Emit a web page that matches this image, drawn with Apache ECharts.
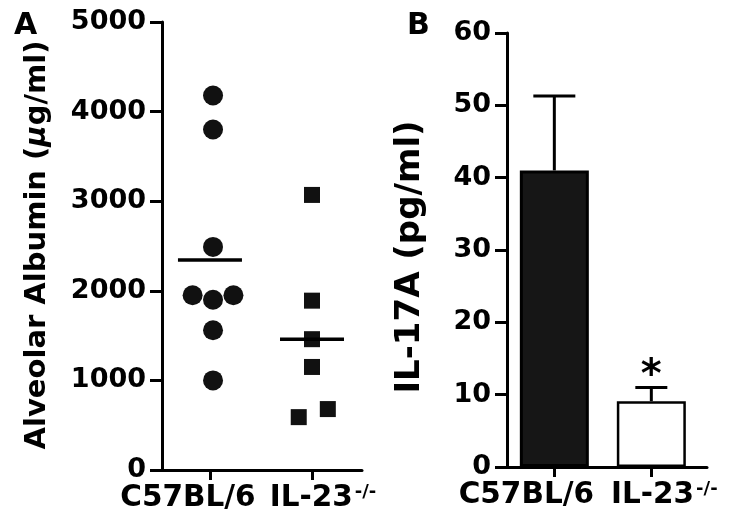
<!DOCTYPE html>
<html>
<head>
<meta charset="utf-8">
<script src="https://cdn.jsdelivr.net/npm/echarts@6/dist/echarts.min.js"></script>
<style>
html,body{margin:0;padding:0;background:#fff;}
#chart{width:729px;height:520px;}
</style>
</head>
<body>
<div id="chart"></div>
<script>
// panel A - alveolar albumin, one dot per mouse
const groups = ['C57BL/6', 'IL-23'];
const wtAlbumin = [4180, 3800, 2490, 1950, 1950, 1900, 1560, 1000];
const wtJitter = [1.03, 1.03, 1.03, 0.83, 1.23, 1.03, 1.03, 1.03];
const koAlbumin = [3070, 1890, 1460, 1150, 680, 590];
const koJitter = [2.0, 2.0, 2.0, 2.0, 2.155, 1.87];
const albuminMeans = [2345, 1460];
const albuminTicks = [0, 1000, 2000, 3000, 4000, 5000];

// panel B - IL-17A, mean + SEM
const il17Means = [41, 9.1];
const il17Sem = [10.3, 1.9];
const il17Stars = ['', '*'];
const il17Ticks = [0, 10, 20, 30, 40, 50, 60];

const FONT = 'DejaVu Sans';
const black = '#000';
const capWidths = [42, 32];

const chart = echarts.init(document.getElementById('chart'));

const labelRich = (shiftA, shiftB) => ({
  a: {fontFamily: FONT, fontWeight: 'bold', fontSize: 29.5, color: black, padding: [0, shiftA * 2, 0, 0]},
  b: {fontFamily: FONT, fontWeight: 'bold', fontSize: 29.5, color: black, padding: [0, 0, 0, shiftB * 2]},
  s: {fontFamily: FONT, fontWeight: 'bold', fontSize: 18, color: black, verticalAlign: 'top', padding: [0, 0, 12, 2]}
});
const groupLabel = v => v === 1 ? '{a|' + groups[0] + '}' : '{b|' + groups[1] + '}{s|-/-}';

const xCommon = {
  type: 'value',
  splitLine: {show: false},
  axisLine: {lineStyle: {color: black, width: 3}},
  axisTick: {customValues: [1, 2], length: 10, lineStyle: {color: black, width: 3}},
};
const yCommon = {
  type: 'value',
  min: 0,
  splitLine: {show: false},
  axisLine: {show: true, lineStyle: {color: black, width: 3}},
  axisTick: {show: true, length: 12, lineStyle: {color: black, width: 3}},
  axisLabel: {fontFamily: FONT, fontWeight: 'bold', fontSize: 27, color: black, margin: 16, formatter: v => String(v)},
  nameLocation: 'middle',
  nameTextStyle: {fontFamily: FONT, fontWeight: 'bold', fontSize: 29, color: black}
};

const option = {
  animation: false,
  backgroundColor: '#fff',
  title: [
    {text: 'A', left: 9, top: 6, textStyle: {fontFamily: FONT, fontWeight: 'bold', fontSize: 30, color: black}},
    {text: 'B', left: 402, top: 6, textStyle: {fontFamily: FONT, fontWeight: 'bold', fontSize: 30, color: black}}
  ],
  grid: [
    {left: 162, top: 22, width: 200, height: 448},
    {left: 507, top: 33, width: 200, height: 434}
  ],
  xAxis: [
    Object.assign({}, xCommon, {
      gridIndex: 0, min: 0.53, max: 2.49,
      axisLabel: {customValues: [1, 2], margin: 13, formatter: groupLabel, rich: labelRich(22, 11)}
    }),
    Object.assign({}, xCommon, {
      gridIndex: 1, min: 0.512, max: 2.574,
      axisLabel: {customValues: [1, 2], margin: 13, formatter: groupLabel, rich: labelRich(28, 13)}
    })
  ],
  yAxis: [
    Object.assign({}, yCommon, {
      gridIndex: 0, max: albuminTicks[albuminTicks.length - 1], interval: 1000,
      name: '{t|Alveolar Albumin (}{i|μ}{t|g/ml)}',
      nameGap: 110,
      nameTextStyle: Object.assign({}, yCommon.nameTextStyle, {
        padding: [0, 0, 0, 2],
        rich: {
          t: {fontFamily: FONT, fontWeight: 'bold', fontSize: 29, color: black},
          i: {fontFamily: FONT, fontWeight: 'bold', fontStyle: 'italic', fontSize: 29, color: black}
        }
      })
    }),
    Object.assign({}, yCommon, {
      gridIndex: 1, max: il17Ticks[il17Ticks.length - 1], interval: 10,
      name: 'IL-17A (pg/ml)',
      nameGap: 80,
      nameTextStyle: Object.assign({}, yCommon.nameTextStyle, {fontSize: 34, padding: [0, 14, 0, 0]})
    })
  ],
  series: [
    {
      type: 'scatter', xAxisIndex: 0, yAxisIndex: 0,
      symbol: 'circle', symbolSize: 20,
      itemStyle: {color: '#111', opacity: 1},
      data: wtAlbumin.map((v, i) => [wtJitter[i], v])
    },
    {
      type: 'scatter', xAxisIndex: 0, yAxisIndex: 0,
      symbol: 'rect', symbolSize: 16,
      itemStyle: {color: '#111', opacity: 1},
      data: koAlbumin.map((v, i) => [koJitter[i], v])
    },
    {
      // group mean lines
      type: 'custom', xAxisIndex: 0, yAxisIndex: 0, z: 5,
      renderItem: (params, api) => {
        const c = api.coord([api.value(0), api.value(1)]);
        return {type: 'line', shape: {x1: c[0] - 32, y1: c[1], x2: c[0] + 32, y2: c[1]},
          style: {stroke: black, lineWidth: 3.5}};
      },
      data: albuminMeans.map((m, i) => [i + 1, m])
    },
    {
      type: 'bar', xAxisIndex: 1, yAxisIndex: 1, barWidth: 69,
      data: il17Means.map((v, i) => ({
        value: [i + 1, v],
        itemStyle: i === 0
          ? {color: '#161616', borderColor: black, borderWidth: 3}
          : {color: '#fff', borderColor: black, borderWidth: 2.5}
      }))
    },
    {
      // SEM whiskers and significance star
      type: 'custom', xAxisIndex: 1, yAxisIndex: 1, z: 5,
      renderItem: (params, api) => {
        const x = api.value(0), m = api.value(1), e = api.value(2);
        const base = api.coord([x, m]);
        const top = api.coord([x, m + e]);
        const half = capWidths[params.dataIndex] / 2;
        const star = il17Stars[params.dataIndex];
        return {type: 'group', children: [
          {type: 'line', shape: {x1: base[0], y1: base[1], x2: top[0], y2: top[1]}, style: {stroke: black, lineWidth: 3}},
          {type: 'line', shape: {x1: top[0] - half, y1: top[1], x2: top[0] + half, y2: top[1]}, style: {stroke: black, lineWidth: 3}},
          {type: 'text', style: {text: star, x: top[0], y: top[1] + 9, align: 'center', verticalAlign: 'bottom',
            fontFamily: FONT, fontWeight: 'bold', fontSize: 40, fill: black}}
        ]};
      },
      data: il17Means.map((m, i) => [i + 1, m, il17Sem[i]])
    }
  ]
};

chart.setOption(option);
</script>
</body>
</html>
